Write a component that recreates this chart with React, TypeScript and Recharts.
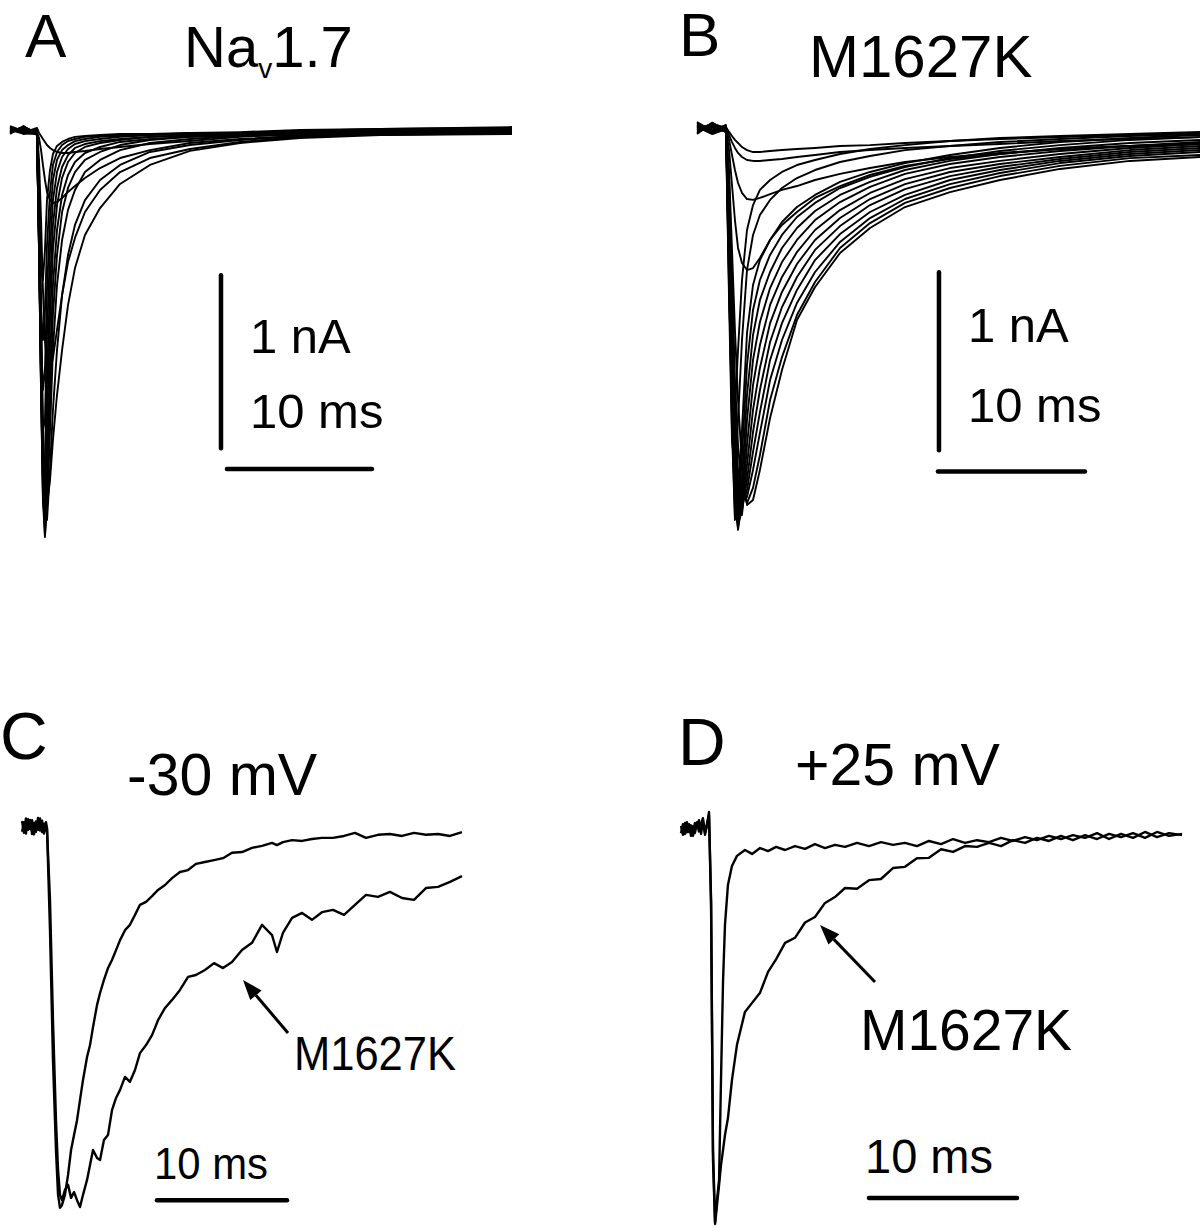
import React from 'react';
import { LineChart, Line, XAxis, YAxis, ReferenceLine } from 'recharts';

// time is ms from the start of the test pulse; A/B currents in nA, C/D normalised to peak

// ---- A: Nav1.7 family ----
const navTime = [-1.93, -1.0, -0.07, 0.07, 0.21, 0.34, 0.48, 0.62, 0.83, 1.03, 1.31, 1.66, 2.07, 2.55, 3.24, 4.28, 5.66, 7.72, 10.48, 13.93, 18.07, 23.59, 32.69];
const nav1 = [0.017, -0.015, 0.012, -0.017, -0.035, -0.052, -0.069, -0.087, -0.104, -0.116, -0.127, -0.133, -0.133, -0.127, -0.121, -0.110, -0.098, -0.081, -0.064, -0.040, -0.017, 0, 0.012];
const nav2 = [-0.012, 0.020, -0.017, -0.046, -0.116, -0.202, -0.289, -0.358, -0.405, -0.422, -0.416, -0.393, -0.358, -0.324, -0.277, -0.220, -0.162, -0.116, -0.075, -0.052, -0.035, -0.023, -0.017];
const nav3 = [0, -0.010, -0.006, -0.173, -0.520, -0.925, -1.214, -1.358, -1.387, -1.318, -1.156, -0.954, -0.763, -0.624, -0.474, -0.347, -0.243, -0.162, -0.110, -0.069, -0.040, -0.023, -0.006];
const nav4 = [-0.017, 0.012, -0.023, -0.347, -0.983, -1.676, -2.081, -2.168, -2.023, -1.792, -1.532, -1.272, -1.012, -0.798, -0.607, -0.451, -0.312, -0.202, -0.121, -0.075, -0.046, -0.029, -0.017];
const nav5 = [0.012, -0.023, 0, -0.520, -1.272, -1.908, -2.254, -2.254, -1.965, -1.618, -1.272, -0.954, -0.723, -0.549, -0.405, -0.289, -0.202, -0.127, -0.087, -0.058, -0.035, -0.012, 0.006];
const nav6 = [-0.006, 0.017, -0.017, -0.636, -1.445, -2.081, -2.341, -2.197, -1.734, -1.272, -0.896, -0.636, -0.462, -0.347, -0.243, -0.173, -0.116, -0.075, -0.052, -0.035, -0.023, -0.012, -0.006];
const nav7 = [0.023, -0.006, -0.012, -0.694, -1.503, -2.139, -2.353, -2.081, -1.561, -1.069, -0.723, -0.474, -0.335, -0.243, -0.173, -0.127, -0.087, -0.058, -0.040, -0.023, -0.006, 0.006, 0.017];
const nav8 = [-0.023, 0.023, -0.029, -0.694, -1.503, -2.110, -2.283, -1.908, -1.329, -0.896, -0.578, -0.376, -0.260, -0.185, -0.133, -0.098, -0.069, -0.052, -0.040, -0.035, -0.029, -0.029, -0.023];
const nav9 = [0.006, -0.017, -0.017, -0.682, -1.474, -2.023, -2.139, -1.676, -1.098, -0.694, -0.434, -0.277, -0.185, -0.133, -0.098, -0.075, -0.058, -0.040, -0.029, -0.017, -0.006, 0, 0.006];
const nav10 = [-0.012, 0.006, -0.023, -0.665, -1.416, -1.908, -1.936, -1.445, -0.896, -0.549, -0.335, -0.214, -0.145, -0.104, -0.081, -0.064, -0.052, -0.040, -0.035, -0.029, -0.023, -0.017, -0.012];
const nav11 = [0.012, -0.012, -0.017, -0.636, -1.329, -1.734, -1.676, -1.185, -0.694, -0.405, -0.243, -0.156, -0.110, -0.081, -0.064, -0.052, -0.040, -0.029, -0.017, -0.012, 0, 0.006, 0.012];
const nav12 = [-0.006, 0.010, -0.023, -0.607, -1.214, -1.503, -1.387, -0.925, -0.520, -0.289, -0.173, -0.116, -0.087, -0.064, -0.052, -0.040, -0.035, -0.029, -0.023, -0.017, -0.012, -0.012, -0.006];
const nav13 = [0, -0.020, -0.023, -0.549, -1.040, -1.214, -1.040, -0.665, -0.358, -0.202, -0.127, -0.087, -0.064, -0.052, -0.040, -0.035, -0.029, -0.023, -0.023, -0.017, -0.012, -0.006, 0];
const nav14 = [-0.017, 0.015, -0.029, -0.462, -0.809, -0.867, -0.694, -0.405, -0.231, -0.139, -0.092, -0.069, -0.052, -0.040, -0.035, -0.029, -0.023, -0.023, -0.017, -0.017, -0.017, -0.017, -0.017];
const navTraces = [nav1, nav2, nav3, nav4, nav5, nav6, nav7, nav8, nav9, nav10, nav11, nav12, nav13, nav14];

// ---- B: M1627K family ----
const mutTime = [-2.04, -1.0, -0.07, 0.14, 0.34, 0.54, 0.75, 1.02, 1.36, 1.77, 2.24, 2.93, 3.74, 4.76, 5.99, 7.69, 9.73, 12.11, 15.17, 18.57, 22.65, 27.41, 32.18];
const mut1 = [0.011, -0.020, 0.006, -0.022, -0.045, -0.067, -0.084, -0.107, -0.124, -0.135, -0.135, -0.129, -0.124, -0.118, -0.112, -0.101, -0.096, -0.084, -0.073, -0.062, -0.051, -0.039, -0.028];
const mut2 = [-0.011, 0.025, 0, -0.039, -0.079, -0.112, -0.140, -0.163, -0.180, -0.185, -0.185, -0.180, -0.174, -0.163, -0.152, -0.135, -0.124, -0.112, -0.101, -0.090, -0.073, -0.062, -0.051];
const mut3 = [-0.006, -0.011, -0.011, -0.067, -0.152, -0.236, -0.309, -0.365, -0.399, -0.404, -0.393, -0.371, -0.348, -0.326, -0.292, -0.258, -0.225, -0.191, -0.163, -0.140, -0.118, -0.101, -0.084];
const mut4 = [0, 0.017, -0.011, -0.124, -0.320, -0.517, -0.674, -0.758, -0.798, -0.787, -0.730, -0.629, -0.545, -0.472, -0.393, -0.326, -0.264, -0.213, -0.174, -0.146, -0.118, -0.101, -0.090];
const mut5 = [0.028, -0.028, 0, -0.910, -1.528, -1.584, -1.247, -0.854, -0.573, -0.433, -0.348, -0.292, -0.247, -0.208, -0.180, -0.146, -0.118, -0.096, -0.073, -0.056, -0.045, -0.034, -0.022];
const mut6 = [-0.006, 0.011, -0.022, -0.966, -1.753, -1.921, -1.640, -1.191, -0.798, -0.601, -0.489, -0.404, -0.337, -0.281, -0.236, -0.191, -0.157, -0.124, -0.101, -0.079, -0.062, -0.045, -0.034];
const mut7 = [-0.006, 0.022, -0.017, -0.854, -1.697, -2.202, -2.090, -1.697, -1.152, -0.882, -0.742, -0.629, -0.528, -0.444, -0.376, -0.303, -0.247, -0.197, -0.152, -0.112, -0.079, -0.056, -0.039];
const mut8 = [0.034, -0.017, 0.017, -0.798, -1.640, -2.174, -2.174, -1.837, -1.331, -1.022, -0.854, -0.713, -0.601, -0.500, -0.421, -0.337, -0.275, -0.219, -0.169, -0.129, -0.096, -0.067, -0.051];
const mut9 = [-0.028, 0.030, -0.017, -0.742, -1.584, -2.118, -2.247, -1.978, -1.500, -1.163, -0.966, -0.809, -0.674, -0.562, -0.466, -0.376, -0.303, -0.236, -0.185, -0.146, -0.112, -0.084, -0.067];
const mut10 = [0.017, -0.025, 0.006, -0.685, -1.500, -2.062, -2.258, -2.090, -1.640, -1.303, -1.090, -0.899, -0.753, -0.629, -0.517, -0.416, -0.331, -0.258, -0.202, -0.163, -0.129, -0.101, -0.079];
const mut11 = [-0.017, 0.006, -0.022, -0.629, -1.416, -2.006, -2.230, -2.146, -1.781, -1.444, -1.219, -0.994, -0.837, -0.697, -0.573, -0.461, -0.365, -0.287, -0.225, -0.185, -0.146, -0.112, -0.090];
const mut12 = [0.006, -0.034, -0.006, -0.545, -1.303, -1.921, -2.174, -2.174, -1.893, -1.584, -1.348, -1.096, -0.921, -0.764, -0.629, -0.506, -0.399, -0.315, -0.247, -0.202, -0.163, -0.124, -0.101];
const mut13 = [-0.034, 0.028, -0.022, -0.461, -1.191, -1.809, -2.090, -2.146, -1.978, -1.708, -1.472, -1.202, -1.006, -0.837, -0.685, -0.551, -0.433, -0.343, -0.270, -0.219, -0.174, -0.135, -0.112];
const mut14 = [0.022, -0.006, 0.011, -0.404, -1.079, -1.697, -2.006, -2.118, -2.034, -1.820, -1.596, -1.303, -1.096, -0.910, -0.742, -0.596, -0.472, -0.376, -0.292, -0.236, -0.185, -0.146, -0.124];
const mut15 = [-0.011, 0.020, -0.017, -0.348, -0.966, -1.584, -1.921, -2.090, -2.073, -1.921, -1.713, -1.416, -1.191, -0.983, -0.809, -0.640, -0.506, -0.399, -0.315, -0.253, -0.197, -0.157, -0.135];
const mut16 = [0.011, -0.030, -0.006, -0.292, -0.826, -1.416, -1.781, -2.034, -2.107, -2.022, -1.837, -1.528, -1.287, -1.051, -0.865, -0.674, -0.534, -0.421, -0.337, -0.270, -0.213, -0.169, -0.152];
const mut17 = [-0.022, 0.013, -0.022, -0.236, -0.685, -1.135, -1.528, -1.893, -2.118, -2.090, -1.921, -1.629, -1.360, -1.079, -0.893, -0.702, -0.562, -0.444, -0.360, -0.292, -0.230, -0.185, -0.163];
const mutTraces = [mut1, mut2, mut3, mut4, mut5, mut6, mut7, mut8, mut9, mut10, mut11, mut12, mut13, mut14, mut15, mut16, mut17];

// ---- C: -30 mV, normalised ----
const time30 = [-1.92, -1.77, -1.62, -1.46, -1.31, -1.15, -1.0, -0.85, -0.69, -0.54, -0.38, -0.23, -0.08, 0, 0.23, 0.46, 0.69, 0.85, 1.0, 1.15, 1.38, 1.62, 1.85, 2.08, 2.31, 2.54, 2.77, 3.08, 3.31, 3.54, 3.85, 4.08, 4.38, 4.69, 5.0, 5.31, 5.62, 6.0, 6.38, 6.77, 7.15, 7.62, 8.08, 8.54, 9.08, 9.62, 10.23, 10.85, 11.46, 12.15, 12.85, 13.54, 14.23, 15.0, 15.77, 16.54, 17.31, 17.69, 18.15, 18.85, 19.62, 20.38, 21.15, 22.0, 22.85, 23.69, 24.54, 25.46, 26.38, 27.31, 28.23, 29.15, 30.08, 31.0, 31.92];
const wt30 = [0.013, -0.018, 0.020, -0.010, 0.016, -0.021, 0.008, -0.015, 0.021, -0.012, 0.014, -0.020, 0.010, -0.005, -0.272, -0.611, -0.846, -0.963, -0.997, -0.990, -0.963, -0.911, -0.846, -0.807, -0.768, -0.715, -0.663, -0.603, -0.572, -0.525, -0.467, -0.436, -0.402, -0.371, -0.350, -0.324, -0.298, -0.272, -0.258, -0.232, -0.206, -0.198, -0.183, -0.167, -0.154, -0.136, -0.120, -0.115, -0.099, -0.094, -0.089, -0.084, -0.070, -0.068, -0.057, -0.052, -0.044, -0.050, -0.042, -0.037, -0.039, -0.034, -0.031, -0.031, -0.026, -0.018, -0.031, -0.023, -0.021, -0.026, -0.018, -0.023, -0.021, -0.026, -0.016];
const m1627k30 = [-0.015, 0.010, -0.020, 0.018, -0.008, 0.015, -0.022, 0.012, -0.010, 0.020, -0.016, 0.006, -0.012, -0.008, -0.193, -0.507, -0.768, -0.898, -0.963, -0.977, -0.950, -0.937, -0.971, -0.956, -0.977, -0.995, -0.963, -0.924, -0.885, -0.846, -0.867, -0.872, -0.820, -0.807, -0.742, -0.710, -0.689, -0.655, -0.668, -0.637, -0.593, -0.572, -0.546, -0.507, -0.475, -0.454, -0.428, -0.394, -0.389, -0.376, -0.358, -0.371, -0.355, -0.324, -0.305, -0.258, -0.285, -0.329, -0.279, -0.240, -0.227, -0.245, -0.225, -0.219, -0.232, -0.206, -0.180, -0.185, -0.172, -0.188, -0.193, -0.162, -0.159, -0.146, -0.131];

// ---- D: +25 mV, normalised ----
const time25 = [-1.89, -1.76, -1.62, -1.49, -1.35, -1.22, -1.08, -0.95, -0.81, -0.68, -0.54, -0.41, -0.27, -0.14, 0, 0.14, 0.27, 0.41, 0.54, 0.68, 0.81, 0.95, 1.08, 1.28, 1.55, 1.89, 2.43, 2.91, 3.45, 3.99, 4.53, 5.14, 5.81, 6.49, 7.16, 7.84, 8.51, 9.19, 10.0, 10.81, 11.62, 12.43, 13.24, 14.05, 14.86, 15.68, 16.49, 17.3, 18.11, 18.92, 19.73, 20.54, 21.35, 22.16, 22.97, 23.78, 24.59, 25.41, 26.22, 27.03, 27.84, 28.65, 29.46, 30.27, 31.08, 31.96];
const wt25 = [-0.008, 0.015, -0.010, 0.020, -0.005, 0.012, -0.015, 0.018, 0.005, 0.025, -0.010, 0.022, -0.012, 0.010, 0.046, -0.179, -0.816, -1.0, -0.944, -0.893, -0.638, -0.383, -0.242, -0.140, -0.092, -0.066, -0.051, -0.061, -0.046, -0.054, -0.043, -0.051, -0.041, -0.048, -0.036, -0.046, -0.038, -0.043, -0.033, -0.041, -0.031, -0.038, -0.033, -0.041, -0.028, -0.036, -0.023, -0.033, -0.026, -0.031, -0.020, -0.028, -0.018, -0.026, -0.015, -0.023, -0.013, -0.020, -0.008, -0.023, -0.010, -0.020, -0.005, -0.018, -0.008, -0.013];
const m1627k25 = [0.010, -0.012, 0.018, -0.006, 0.015, -0.015, 0.010, -0.008, 0.020, -0.004, 0.016, 0.030, -0.006, 0.015, 0.038, -0.191, -0.842, -1.005, -0.957, -0.906, -0.855, -0.816, -0.778, -0.735, -0.638, -0.548, -0.464, -0.441, -0.415, -0.362, -0.330, -0.288, -0.275, -0.236, -0.222, -0.186, -0.171, -0.148, -0.150, -0.128, -0.125, -0.097, -0.094, -0.072, -0.071, -0.049, -0.056, -0.041, -0.043, -0.033, -0.041, -0.026, -0.033, -0.020, -0.028, -0.015, -0.026, -0.013, -0.023, -0.010, -0.018, -0.008, -0.020, -0.005, -0.015, -0.010];

// scale bars, in the same units as the traces
const navScaleBars = [
  { x1: 12.62, y1: -0.84, x2: 12.62, y2: -1.84 },
  { x1: 13.03, y1: -1.96, x2: 23.03, y2: -1.96 },
];
const mutScaleBars = [
  { x1: 14.42, y1: -0.81, x2: 14.42, y2: -1.81 },
  { x1: 14.35, y1: -1.93, x2: 24.35, y2: -1.93 },
];
const scaleBar30 = [{ x1: 8.46, y1: -0.977, x2: 18.46, y2: -0.977 }];
const scaleBar25 = [{ x1: 10.81, y1: -0.939, x2: 20.81, y2: -0.939 }];

const FONT = '"Liberation Sans", Arial, Helvetica, sans-serif';

type Box = { left: number; top: number; width: number; height: number };
type Frame = { onsetX: number; baseY: number; pxPerMs: number; pxPerUnit: number };
type Bar = { x1: number; y1: number; x2: number; y2: number };

function buildRows(time: number[], traces: number[][]) {
  return time.map((t, i) => {
    const row: Record<string, number> = { t };
    traces.forEach((tr, k) => {
      row['s' + k] = tr[i];
    });
    return row;
  });
}

function TracePanel({ box, frame, time, traces, bars, lineWidth }: {
  box: Box; frame: Frame; time: number[]; traces: number[][]; bars: Bar[]; lineWidth: number;
}) {
  const rows = buildRows(time, traces);
  const xDomain = [
    (box.left - frame.onsetX) / frame.pxPerMs,
    (box.left + box.width - frame.onsetX) / frame.pxPerMs,
  ];
  const yDomain = [
    -(box.top + box.height - frame.baseY) / frame.pxPerUnit,
    (frame.baseY - box.top) / frame.pxPerUnit,
  ];
  return (
    <div style={{ position: 'absolute', left: box.left, top: box.top }}>
      <LineChart width={box.width} height={box.height} data={rows} margin={{ top: 0, right: 0, bottom: 0, left: 0 }}>
        <XAxis type="number" dataKey="t" domain={xDomain} hide allowDataOverflow />
        <YAxis type="number" domain={yDomain} hide allowDataOverflow />
        {traces.map((_, k) => (
          <Line
            key={k}
            type="linear"
            dataKey={'s' + k}
            stroke="#000"
            strokeWidth={lineWidth}
            strokeLinejoin="round"
            dot={false}
            activeDot={false}
            isAnimationActive={false}
          />
        ))}
        {bars.map((b, i) => (
          <ReferenceLine
            key={'bar' + i}
            segment={[{ x: b.x1, y: b.y1 }, { x: b.x2, y: b.y2 }]}
            stroke="#000"
            strokeWidth={4.5}
            strokeLinecap="round"
          />
        ))}
      </LineChart>
    </div>
  );
}

function Arrow({ tail, head }: { tail: [number, number]; head: [number, number] }) {
  const dx = tail[0] - head[0];
  const dy = tail[1] - head[1];
  const d = Math.hypot(dx, dy);
  const ux = dx / d;
  const uy = dy / d;
  const len = 20;
  const half = 7.5;
  const bx = head[0] + ux * len;
  const by = head[1] + uy * len;
  const pts = `${head[0]},${head[1]} ${bx - uy * half},${by + ux * half} ${bx + uy * half},${by - ux * half}`;
  return (
    <g>
      <line x1={tail[0]} y1={tail[1]} x2={bx} y2={by} stroke="#000" strokeWidth={3} />
      <polygon points={pts} fill="#000" />
    </g>
  );
}

export default function App() {
  return (
    <div style={{ position: 'absolute', left: 0, top: 0, width: 1200, height: 1228, background: '#fff', overflow: 'hidden' }}>
      <TracePanel
        box={{ left: 0, top: 100, width: 530, height: 460 }}
        frame={{ onsetX: 38, baseY: 130, pxPerMs: 14.5, pxPerUnit: 173 }}
        time={navTime}
        traces={navTraces}
        bars={navScaleBars}
        lineWidth={1.9}
      />
      <TracePanel
        box={{ left: 680, top: 100, width: 520, height: 460 }}
        frame={{ onsetX: 727, baseY: 128, pxPerMs: 14.7, pxPerUnit: 178 }}
        time={mutTime}
        traces={mutTraces}
        bars={mutScaleBars}
        lineWidth={1.9}
      />
      <TracePanel
        box={{ left: 0, top: 790, width: 480, height: 438 }}
        frame={{ onsetX: 47, baseY: 826, pxPerMs: 13, pxPerUnit: 383 }}
        time={time30}
        traces={[wt30, m1627k30]}
        bars={scaleBar30}
        lineWidth={2.4}
      />
      <TracePanel
        box={{ left: 660, top: 790, width: 540, height: 438 }}
        frame={{ onsetX: 709, baseY: 830, pxPerMs: 14.8, pxPerUnit: 392 }}
        time={time25}
        traces={[wt25, m1627k25]}
        bars={scaleBar25}
        lineWidth={2.4}
      />
      <svg width={1200} height={1228} style={{ position: 'absolute', left: 0, top: 0, pointerEvents: 'none' }} fontFamily={FONT}>
        <text x={25} y={57} fontSize={62} fill="#000">A</text>
        <text x={184} y={67} fontSize={58} fill="#000">
          Na<tspan fontSize={28} dy={11} fill="#000">v</tspan><tspan dy={-11} fill="#000">1.7</tspan>
        </text>
        <text x={679} y={56} fontSize={62} fill="#000">B</text>
        <text x={809} y={77} fontSize={60} fill="#000">M1627K</text>

        <text x={250} y={353} fontSize={49} fill="#000">1 nA</text>
        <text x={250} y={428} fontSize={49} fill="#000">10 ms</text>
        <text x={968} y={342} fontSize={49} fill="#000">1 nA</text>
        <text x={968} y={422} fontSize={49} fill="#000">10 ms</text>

        <text x={0} y={759} fontSize={66} fill="#000">C</text>
        <text x={127} y={795} fontSize={59} fill="#000">-30 mV</text>
        <text x={678} y={765} fontSize={66} fill="#000">D</text>
        <text x={795} y={785} fontSize={59} fill="#000">+25 mV</text>

        <text x={294} y={1070} fontSize={48} textLength={162} lengthAdjust="spacingAndGlyphs" fill="#000">M1627K</text>
        <text x={154} y={1179} fontSize={44} textLength={114} lengthAdjust="spacingAndGlyphs" fill="#000">10 ms</text>
        <text x={860} y={1050} fontSize={58} textLength={212} lengthAdjust="spacingAndGlyphs" fill="#000">M1627K</text>
        <text x={865} y={1173} fontSize={48} textLength={128} lengthAdjust="spacingAndGlyphs" fill="#000">10 ms</text>

        <Arrow tail={[288, 1033]} head={[243, 980]} />
        <Arrow tail={[875, 982]} head={[820, 925]} />
      </svg>
    </div>
  );
}
